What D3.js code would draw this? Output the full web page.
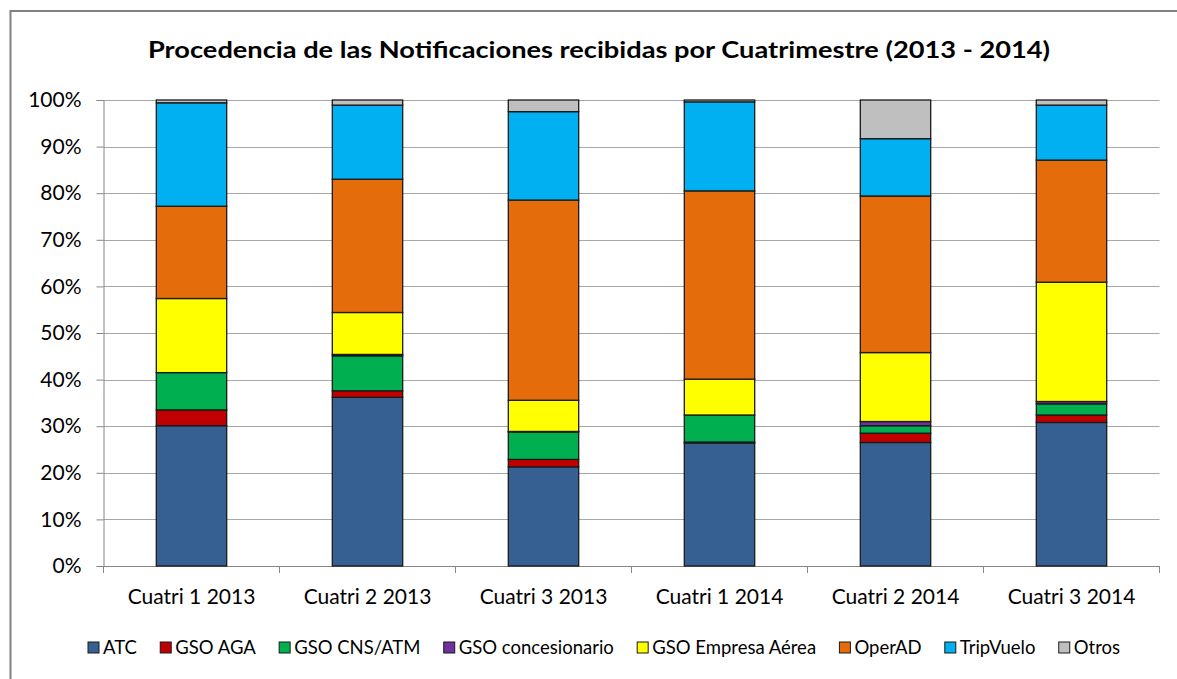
<html>
    <head>
        <meta charset="utf-8">
        <script src="https://d3js.org/d3.v7.min.js"></script>
        <style>
            body { margin: 0; background: white; }
            text { font-family: Lato, 'Open Sans', sans-serif; fill: #000; }
        </style>
    </head>
    <body>
        <svg width="1177" height="679"></svg>
        <script>
            // data, in percent
            var categories = ['Cuatri 1 2013', 'Cuatri 2 2013', 'Cuatri 3 2013', 'Cuatri 1 2014', 'Cuatri 2 2014', 'Cuatri 3 2014'];
            var seriesNames = ['ATC', 'GSO AGA', 'GSO CNS/ATM', 'GSO concesionario', 'GSO Empresa Aérea', 'OperAD', 'TripVuelo', 'Otros'];
            var atc = [30.1, 36.2, 21.3, 26.4, 26.5, 30.8];
            var gsoAga = [3.4, 1.4, 1.6, 0.2, 2.0, 1.6];
            var gsoCns = [8.0, 7.5, 5.9, 5.8, 1.6, 2.4];
            var gsoConc = [0.0, 0.3, 0.1, 0.0, 0.9, 0.5];
            var gsoEmpresa = [15.9, 9.0, 6.7, 7.7, 14.8, 25.6];
            var operAD = [19.8, 28.6, 43.0, 40.4, 33.6, 26.2];
            var tripVuelo = [22.2, 15.9, 19.0, 19.1, 12.3, 11.8];
            var otros = [0.6, 1.1, 2.5, 0.4, 8.3, 1.1];
            var yTicks = [0, 10, 20, 30, 40, 50, 60, 70, 80, 90, 100];

            var colors = ['#376092', '#C00000', '#00B050', '#7030A0', '#FFFF00', '#E46C0A', '#00B0F0', '#BFBFBF'];
            var allSeries = [atc, gsoAga, gsoCns, gsoConc, gsoEmpresa, operAD, tripVuelo, otros];

            var rows = categories.map((c, i) => {
                var row = { cat: c };
                seriesNames.forEach((s, j) => { row[s] = allSeries[j][i]; });
                return row;
            });
            var stacked = d3.stack().keys(seriesNames).offset(d3.stackOffsetExpand)(rows);

            var svg = d3.select('svg');
            var plotLeft = 103.5, plotRight = 1159.5, plotTop = 100, plotBottom = 566;

            // chart border
            svg.append('rect')
                .attr('x', 10.5).attr('y', 11)
                .attr('width', 1180).attr('height', 700)
                .style('fill', 'white')
                .style('stroke', '#808080')
                .style('stroke-width', 2);

            var x = d3.scaleBand().domain(categories).range([plotLeft, plotRight]).paddingInner(0.6).paddingOuter(0.3);
            var xGroups = d3.scaleBand().domain(categories).range([plotLeft, plotRight]);
            var y = d3.scaleLinear().domain([0, 1]).range([plotBottom, plotTop]);

            // gridlines
            svg.append('g')
                .selectAll('line')
                .data(yTicks)
                .enter()
                .append('line')
                .attr('x1', plotLeft).attr('x2', plotRight)
                .attr('y1', d => Math.round(y(d / 100)) + 0.5)
                .attr('y2', d => Math.round(y(d / 100)) + 0.5)
                .style('stroke', '#A6A6A6')
                .style('stroke-width', 1.2);

            // y axis
            var yAxis = d3.axisLeft(y)
                .tickValues(yTicks.map(d => d / 100))
                .tickFormat(d3.format('.0%'))
                .tickSize(7)
                .tickPadding(15);
            var gy = svg.append('g')
                .attr('transform', 'translate(' + plotLeft + ',0)')
                .call(yAxis);
            gy.select('.domain').style('stroke', '#868686');
            gy.selectAll('.tick line').style('stroke', '#868686');
            gy.selectAll('.tick text').style('font-size', '21px').attr('font-family', 'Lato, sans-serif');

            // x axis
            var xAxis = d3.axisBottom(xGroups).tickSize(0).tickPadding(23);
            var gx = svg.append('g')
                .attr('transform', 'translate(0,' + plotBottom + ')')
                .call(xAxis);
            gx.select('.domain').style('stroke', '#868686');
            gx.selectAll('.tick text').style('font-size', '21px').attr('font-family', 'Lato, sans-serif');
            // category separators
            gx.selectAll('.sep')
                .data(categories)
                .enter()
                .append('line')
                .attr('x1', d => xGroups(d) + xGroups.bandwidth())
                .attr('x2', d => xGroups(d) + xGroups.bandwidth())
                .attr('y1', 0).attr('y2', 7)
                .style('stroke', '#868686');
            gx.append('line')
                .attr('x1', plotLeft).attr('x2', plotLeft).attr('y1', 0).attr('y2', 7)
                .style('stroke', '#868686');

            // bars
            var layers = svg.append('g')
                .selectAll('g')
                .data(stacked)
                .enter()
                .append('g')
                .style('fill', (d, i) => colors[i]);
            layers.selectAll('rect')
                .data(d => d)
                .enter()
                .append('rect')
                .attr('x', d => x(d.data.cat))
                .attr('width', x.bandwidth())
                .attr('y', d => y(d[1]))
                .attr('height', d => y(d[0]) - y(d[1]))
                .style('stroke', '#1a1a1a')
                .style('stroke-width', 1.3);

            // title
            svg.append('text')
                .attr('x', 599)
                .attr('y', 58)
                .attr('text-anchor', 'middle')
                .style('font-size', '23px')
                .style('font-weight', 'bold')
                .attr('textLength', 902)
                .attr('lengthAdjust', 'spacingAndGlyphs')
                .text('Procedencia de las Notificaciones recibidas por Cuatrimestre (2013 - 2014)');

            // legend
            var legend = svg.append('g');
            var items = legend.selectAll('g')
                .data(seriesNames)
                .enter()
                .append('g');
            items.append('rect')
                .attr('width', 11).attr('height', 11)
                .attr('y', -6)
                .style('fill', (d, i) => colors[i])
                .style('stroke', '#1a1a1a')
                .style('stroke-width', 1);
            items.append('text')
                .attr('x', 15)
                .attr('dy', '0.35em')
                .style('font-size', '18.5px')
                .text(d => d);
            var xpos = 0;
            var widths = [];
            items.each(function () {
                widths.push(15 + this.querySelector('text').getComputedTextLength());
            });
            var span = 1032;
            var gap = (span - d3.sum(widths)) / (widths.length - 1);
            var start = 88;
            items.attr('transform', (d, i) => {
                var tx = start + xpos;
                xpos += widths[i] + gap;
                return 'translate(' + tx + ',648)';
            });
        </script>
    </body>
</html>
